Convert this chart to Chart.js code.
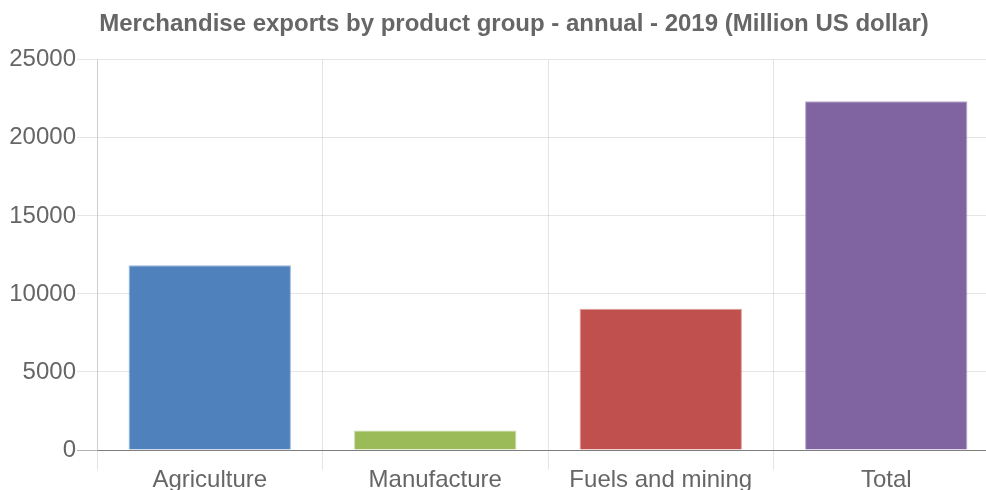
<!DOCTYPE html>
<html>
<head>
<meta charset="utf-8">
<title>Merchandise exports by product group - annual - 2019</title>
<script src="https://cdn.jsdelivr.net/npm/chart.js@4/dist/chart.umd.min.js"></script>
<style>
  html, body { margin: 0; padding: 0; background: #ffffff; overflow: hidden; }
  #wrap { position: relative; width: 1028px; height: 510px; }
</style>
</head>
<body>
<div id="wrap"><canvas id="chart" width="1028" height="510"></canvas></div>
<script>
// Product groups and their 2019 export values (million US dollar)
const categories = ['Agriculture', 'Manufacture', 'Fuels and mining', 'Total'];
const exportValues = [11830, 1250, 9050, 22340];
const barColors = ['#4f81bd', '#9bbb59', '#c0504d', '#8064a2'];
const barEdgeColors = ['rgba(79,129,189,0.55)', 'rgba(155,187,89,0.55)', 'rgba(192,80,77,0.55)', 'rgba(128,100,162,0.55)'];
const chartTitle = 'Merchandise exports by product group - annual - 2019 (Million US dollar)';

const FONT = '"Liberation Sans", Arial, Helvetica, sans-serif';
const TEXT_GREY = '#666666';

new Chart(document.getElementById('chart'), {
  type: 'bar',
  data: {
    labels: categories,
    datasets: [{
      data: exportValues,
      backgroundColor: barColors,
      borderColor: barEdgeColors,
      borderWidth: 1,
      barPercentage: 0.9,
      categoryPercentage: 0.8
    }]
  },
  options: {
    responsive: false,
    animation: false,
    devicePixelRatio: 1,
    layout: { padding: 0 },
    plugins: {
      legend: { display: false },
      tooltip: { enabled: false },
      title: {
        display: true,
        text: chartTitle,
        color: TEXT_GREY,
        font: { family: FONT, size: 24, weight: 'bold' },
        padding: { top: 10, bottom: 21 }
      }
    },
    scales: {
      x: {
        afterFit: (scale) => { scale.height = 60; },
        grid: {
          color: 'rgba(0,0,0,0.1)',
          tickLength: 20,
          offset: true
        },
        border: { color: 'rgba(0,0,0,0.3)' },
        ticks: {
          color: TEXT_GREY,
          font: { family: FONT, size: 24 },
          padding: -4,
          maxRotation: 0
        }
      },
      y: {
        min: 0,
        max: 25000,
        afterFit: (scale) => { scale.width = 97; },
        grid: {
          color: (ctx) => (ctx.tick && ctx.tick.value === 0) ? 'rgba(0,0,0,0.3)' : 'rgba(0,0,0,0.1)',
          tickLength: 20
        },
        border: { color: 'rgba(0,0,0,0.1)' },
        ticks: {
          stepSize: 5000,
          color: TEXT_GREY,
          font: { family: FONT, size: 24 },
          padding: 1,
          callback: (value) => String(value)
        }
      },
      // empty right-hand margin strip beside the plot
      margin: {
        position: 'right',
        display: true,
        afterFit: (scale) => { scale.width = 29; },
        grid: { display: false },
        border: { display: false },
        ticks: { display: false }
      }
    }
  }
});
</script>
</body>
</html>
